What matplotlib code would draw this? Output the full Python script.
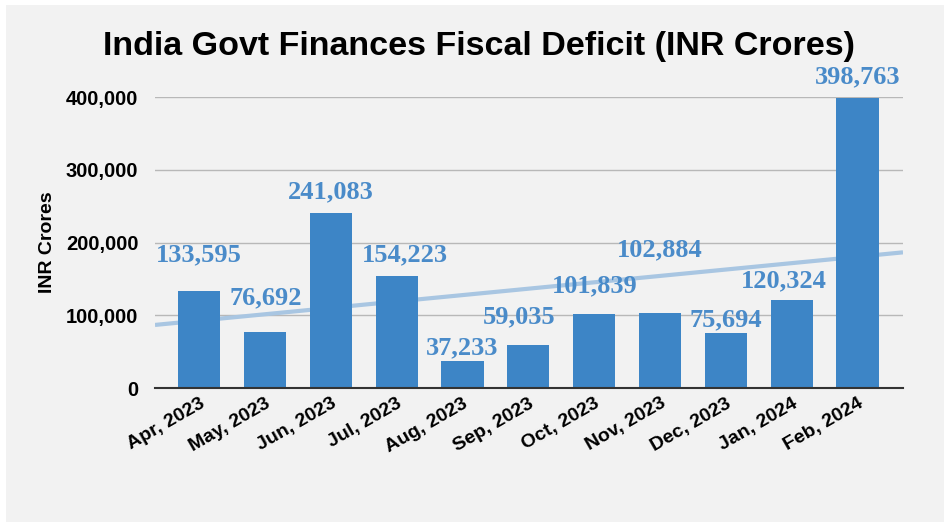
import numpy as np
import matplotlib.pyplot as plt
from matplotlib.patches import Rectangle
from matplotlib.ticker import FuncFormatter

months = ['Apr, 2023', 'May, 2023', 'Jun, 2023', 'Jul, 2023', 'Aug, 2023', 'Sep, 2023',
          'Oct, 2023', 'Nov, 2023', 'Dec, 2023', 'Jan, 2024', 'Feb, 2024']
deficit = [133595, 76692, 241083, 154223, 37233, 59035,
           101839, 102884, 75694, 120324, 398763]
y_ticks = [0, 100000, 200000, 300000, 400000]

# label placement (pixels from bar top), like the sheet's own collision avoidance
label_dx = [0, 1, 0, 8, 0, -9, 1, 0, 0, -8, 0]
label_dy = [36, 34, 21, 21, 13, 28, 28, 63, 13, 20, 21]

BLUE = '#3d85c6'
BG = '#f2f2f2'

fig = plt.figure(figsize=(9.44, 5.27), dpi=100, facecolor='white')
fig.patches.append(Rectangle((6 / 944, 5 / 527), 938 / 944, 517 / 527,
                             transform=fig.transFigure, facecolor=BG,
                             edgecolor='none', zorder=-10))

ax = fig.add_axes([155 / 944, 1 - 388 / 527, 748 / 944, 291 / 527])
ax.set_facecolor(BG)

x = np.arange(len(months))
ax.bar(x, deficit, width=0.64, color=BLUE, zorder=3)

# linear trendline
k, b = np.polyfit(x, deficit, 1)
xl = np.array([-0.67, 10.69])
ax.plot(xl, k * xl + b, color='#a9c6e2', lw=3, zorder=2, solid_capstyle='butt')

for i, v in enumerate(deficit):
    ax.annotate(f'{v:,}', (x[i], v), xytext=(label_dx[i], label_dy[i]),
                textcoords='offset pixels', ha='center', va='center',
                fontsize=19, fontweight='bold', family='Liberation Serif',
                color='#4a8bc9', zorder=5, annotation_clip=False)

ax.set_xlim(-0.67, 10.69)
ax.set_ylim(0, 400000)
ax.set_yticks(y_ticks)
ax.yaxis.set_major_formatter(FuncFormatter(lambda v, p: f'{int(v):,}'))
ax.grid(axis='y', color='#b8b8b8', lw=1, zorder=0)
ax.set_axisbelow(True)
for s in ['top', 'right', 'left']:
    ax.spines[s].set_visible(False)
ax.spines['bottom'].set_color('#333333')
ax.spines['bottom'].set_linewidth(1.5)
ax.spines['bottom'].set_zorder(4)
ax.tick_params(length=0)
ax.tick_params(axis='y', pad=12)
ax.tick_params(axis='x', pad=5)

ax.set_xticks(x)
ax.set_xticklabels(months, rotation=30, ha='right', rotation_mode='anchor',
                   fontsize=14, fontweight='bold', family='Liberation Sans')
for t in ax.get_yticklabels():
    t.set_fontsize(14.5)
    t.set_fontweight('bold')
    t.set_family('Liberation Sans')

ax.set_ylabel('INR Crores', fontsize=14, fontweight='bold',
              family='Liberation Sans', labelpad=7)

fig.text(479 / 944, 1 - 47 / 527, 'India Govt Finances Fiscal Deficit (INR Crores)',
         ha='center', va='center', fontsize=24.5, fontweight='bold',
         family='Liberation Sans', color='black')

fig.savefig('out.png', dpi=100, facecolor=fig.get_facecolor())
